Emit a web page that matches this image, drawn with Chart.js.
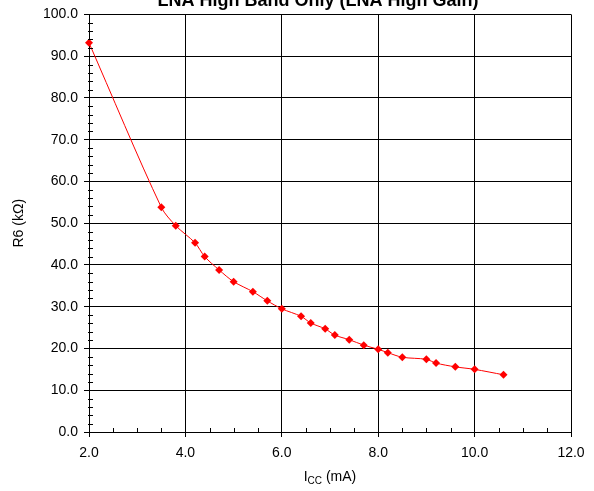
<!DOCTYPE html>
<html>
<head>
<meta charset="utf-8">
<script src="https://cdn.jsdelivr.net/npm/chart.js@4"></script>
<style>
  html, body { margin: 0; padding: 0; background: #fff; }
  canvas { display: block; }
</style>
</head>
<body>
<canvas id="chartR6" width="594" height="491"></canvas>
<script>
const titleText = 'LNA High Band Only (LNA High Gain)';
const icc = [2.0, 3.5, 3.8, 4.2, 4.4, 4.7, 5.0, 5.4, 5.7, 6.0, 6.4, 6.6, 6.9, 7.1, 7.4, 7.7, 8.0, 8.2, 8.5, 9.0, 9.2, 9.6, 10.0, 10.6];
const r6 = [93.2, 53.8, 49.4, 45.3, 42.0, 38.8, 36.0, 33.6, 31.4, 29.5, 27.7, 26.1, 24.7, 23.2, 22.1, 20.8, 19.8, 19.0, 17.9, 17.4, 16.5, 15.6, 15.0, 13.7];

const FONT = 'Arial, "Liberation Sans", sans-serif';

// minor ticks, title and the subscripted x title are drawn here
const extras = {
    id: 'extras',
    afterDraw(chart) {
        const ctx = chart.ctx;
        const xs = chart.scales.x, ys = chart.scales.y;
        const a = chart.chartArea;
        ctx.save();
        ctx.strokeStyle = '#000';
        ctx.lineWidth = 1;
        ctx.beginPath();
        for (let v = ys.min; v <= ys.max; v += 2) {
            if (v % 10 === 0) continue;
            const py = Math.round(ys.getPixelForValue(v)) + 0.5;
            ctx.moveTo(a.left - 1, py);
            ctx.lineTo(a.left + 4, py);
        }
        for (let v = xs.min; v <= xs.max; v += 0.5) {
            if (v % 2 === 0) continue;
            const px = Math.round(xs.getPixelForValue(v)) + 0.5;
            ctx.moveTo(px, a.bottom);
            ctx.lineTo(px, a.bottom - 4);
        }
        ctx.stroke();

        // title (partly off the top edge, as in the original)
        ctx.fillStyle = '#000';
        ctx.font = 'bold 18px ' + FONT;
        ctx.textAlign = 'center';
        ctx.textBaseline = 'alphabetic';
        ctx.fillText(titleText, 318, 6);

        // x axis title: I_CC (mA)
        ctx.textAlign = 'left';
        const big = '14px ' + FONT, small = '10px ' + FONT;
        ctx.font = big; const w1 = ctx.measureText('I').width;
        ctx.font = small; const w2 = ctx.measureText('CC').width;
        ctx.font = big; const w3 = ctx.measureText(' (mA)').width;
        let x0 = (a.left + a.right) / 2 - (w1 + w2 + w3) / 2;
        const base = 482;
        ctx.font = big; ctx.fillText('I', x0, base - 1);
        ctx.font = small; ctx.fillText('CC', x0 + w1, base + 2);
        ctx.font = big; ctx.fillText(' (mA)', x0 + w1 + w2, base - 1);
        ctx.restore();
    }
};

new Chart(document.getElementById('chartR6'), {
    type: 'line',
    data: {
        datasets: [{
            label: 'R6',
            data: icc.map((x, i) => ({x: x, y: r6[i]})),
            borderColor: '#ff0000',
            backgroundColor: '#ff0000',
            borderWidth: 1,
            pointStyle: 'rectRot',
            pointRadius: 4,
            pointBorderWidth: 0,
            tension: 0.3,
            fill: false,
            clip: false
        }]
    },
    options: {
        responsive: false,
        animation: false,
        devicePixelRatio: 1,
        layout: {padding: {left: 0, right: 23, top: 12, bottom: 0}},
        plugins: {legend: {display: false}, tooltip: {enabled: false}},
        scales: {
            x: {
                type: 'linear', min: 2, max: 12,
                ticks: {stepSize: 2, color: '#000', font: {family: FONT, size: 14}, padding: 8,
                    callback: v => v.toFixed(1)},
                grid: {color: '#000', tickColor: '#000', tickLength: 5},
                border: {color: '#000', width: 1},
                afterFit: s => { s.height = 59; }
            },
            y: {
                min: 0, max: 100,
                ticks: {stepSize: 10, color: '#000', font: {family: FONT, size: 14}, padding: 6,
                    callback: v => v.toFixed(1)},
                grid: {color: '#000', tickColor: '#000', tickLength: 5},
                border: {color: '#000', width: 1},
                title: {display: true, text: 'R6 (kΩ)', color: '#000', font: {family: FONT, size: 14}, padding: {top: 11, bottom: 0}},
                afterFit: s => { s.width = 89; }
            }
        }
    },
    plugins: [extras]
});
</script>
</body>
</html>
